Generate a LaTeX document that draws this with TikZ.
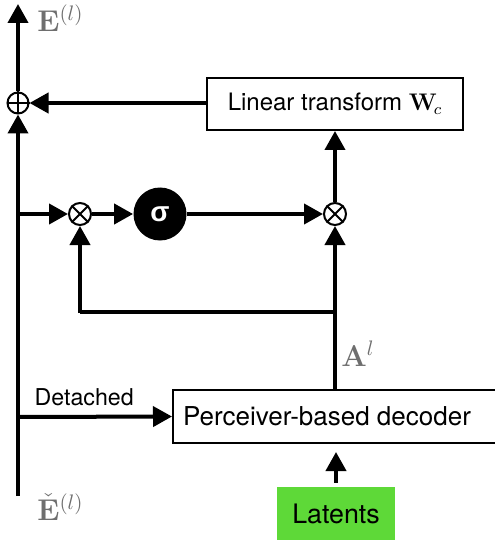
\documentclass[tikz,border=0pt]{standalone}
\usepackage{fix-cm}
\usepackage{amsmath}
\usepackage[no-math]{fontspec}
\setmainfont{TeX Gyre Heros}
\newfontfamily\greekfont{Liberation Sans}
\usetikzlibrary{arrows.meta, positioning, calc}
\definecolor{latentgreen}{HTML}{5ED938}
\definecolor{labelgray}{HTML}{6E6E6E}
\tikzset{
  blockbox/.style={draw, line width=1pt, minimum height=26pt, align=center,
                   font=\fontsize{12}{14}\selectfont, inner sep=3pt},
  latentbox/.style={fill=latentgreen, minimum width=59pt, minimum height=26.5pt,
                    font=\fontsize{13.4}{15}\selectfont},
  opnode/.style={draw, circle, line width=1pt, minimum size=11pt, inner sep=0pt, fill=white},
  gatenode/.style={circle, fill=black, minimum size=26.5pt, inner sep=0pt,
                   text=white, font=\greekfont\bfseries\fontsize{14}{14}\selectfont},
  symlab/.style={labelgray, font=\fontsize{15}{16}\selectfont, inner sep=0pt},
  arr/.style={-{Triangle[length=9.5pt,width=10pt]}, line width=2pt},
  flow/.style={line width=2pt},
}

\begin{document}
\begin{tikzpicture}[x=0.5pt, y=-0.5pt]
  \useasboundingbox (0,0) rectangle (494,545);

  %% Residual stream
  \node[opnode, minimum size=10.5pt] (add) at (18,103) {};
  \draw[line width=1pt] (add.north) -- (add.south) (add.west) -- (add.east);
  \coordinate (bottom) at (18,496);
  \coordinate (top) at (18,4);
  \coordinate (tapgate) at (18,214);
  \coordinate (tapdec) at (18,417);
  \node[symlab, anchor=west] (eout) at (37,18) {$\mathbf{E}^{(l)}$};
  \node[symlab, anchor=west] (ein) at (37,507) {$\check{\mathbf{E}}^{(l)}$};

  %% Boxes
  \node[blockbox, minimum width=128pt] (lin) at (335,104)
    {Linear transform $\mathbf{W}_{\!c}$};
  \node[blockbox, minimum width=172pt, minimum height=26.5pt,
        font=\fontsize{13}{15}\selectfont] (dec) at (345,416.5)
    {\hspace*{-18pt}Perceiver-based decoder};
  \node[latentbox] (lat) at (336,513.5) {Latents};

  %% Gating
  \node[opnode] (mulA) at (80,214) {};
  \draw[line width=1pt] (mulA.north west) -- (mulA.south east) (mulA.north east) -- (mulA.south west);
  \node[gatenode] (sig) at (160,214) {σ};
  \node[opnode] (mulB) at (335,214) {};
  \draw[line width=1pt] (mulB.north west) -- (mulB.south east) (mulB.north east) -- (mulB.south west);
  \coordinate (split) at (335,312);
  \coordinate (turn) at (80,312);
  \node[symlab, anchor=west] (alab) at (341,354) {$\mathbf{A}^{l}$};

  %% Connectors
  \draw[arr] (bottom) -- (add.south);
  \draw[arr] (add.north) -- (top);
  \draw[arr] (lin.west |- add) -- (add.east);
  \draw[arr] (tapgate) -- (mulA.west);
  \draw[arr] (mulA.east) -- (sig.west);
  \draw[arr] (sig.east) -- (mulB.west);
  \draw[arr] (mulB.north) -- (lin.south -| mulB);
  \draw[arr] (dec.north -| mulB) -- (mulB.south);
  \draw[flow] (split) -- (turn);
  \draw[arr] ([yshift=-0.5pt]turn) -- (mulA.south);
  \draw[arr] (tapdec) -- (dec.west)
    node[pos=0.43, above=1pt, font=\fontsize{11.6}{13}\selectfont] (det) {Detached};
  \draw[arr, shorten <=2pt, shorten >=4pt] (lat.north) -- (lat.north |- dec.south);
\end{tikzpicture}
\end{document}
